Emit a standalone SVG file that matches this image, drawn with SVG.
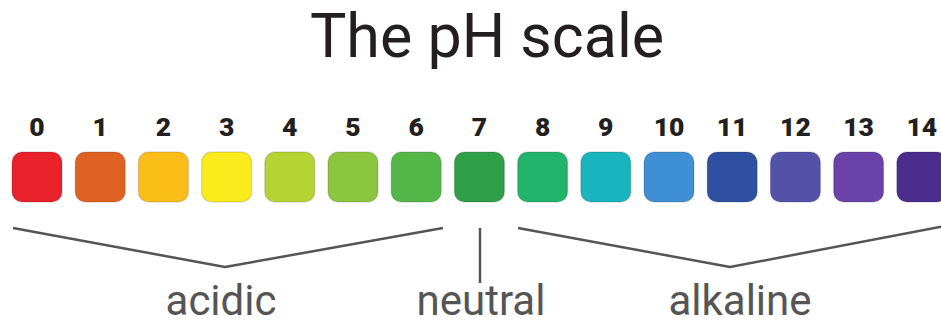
<svg xmlns="http://www.w3.org/2000/svg" width="941" height="325" viewBox="0 0 941 325">
<style>
.title{font-family:Roboto,"Liberation Sans",sans-serif;font-size:61px;fill:#231f20;text-anchor:middle}
.num{font-family:Roboto,"Liberation Sans",sans-serif;font-size:26.5px;font-weight:900;fill:#231f20;text-anchor:middle}
.lbl{font-family:Roboto,"Liberation Sans",sans-serif;font-size:42px;fill:#555555;text-anchor:middle}
.box{stroke:#000;stroke-opacity:0.12;stroke-width:1.5}
.line{fill:none;stroke:#555555;stroke-width:2.5;stroke-linejoin:round}
</style>
<rect width="941" height="325" fill="#ffffff"/>
<text class="title" x="487" y="57">The pH scale</text>
<g id="ph0"><rect class="box" x="12" y="152" width="50" height="50" rx="10" fill="#e8212b"/><text class="num" x="37" y="136">0</text></g>
<g id="ph1"><rect class="box" x="75.2" y="152" width="50" height="50" rx="10" fill="#e06222"/><text class="num" x="100.2" y="136">1</text></g>
<g id="ph2"><rect class="box" x="138.4" y="152" width="50" height="50" rx="10" fill="#fbbd18"/><text class="num" x="163.4" y="136">2</text></g>
<g id="ph3"><rect class="box" x="201.6" y="152" width="50" height="50" rx="10" fill="#faec1c"/><text class="num" x="226.6" y="136">3</text></g>
<g id="ph4"><rect class="box" x="264.8" y="152" width="50" height="50" rx="10" fill="#b6d334"/><text class="num" x="289.8" y="136">4</text></g>
<g id="ph5"><rect class="box" x="328" y="152" width="50" height="50" rx="10" fill="#8cc63f"/><text class="num" x="353" y="136">5</text></g>
<g id="ph6"><rect class="box" x="391.2" y="152" width="50" height="50" rx="10" fill="#53b848"/><text class="num" x="416.2" y="136">6</text></g>
<g id="ph7"><rect class="box" x="454.4" y="152" width="50" height="50" rx="10" fill="#2f9f48"/><text class="num" x="479.4" y="136">7</text></g>
<g id="ph8"><rect class="box" x="517.6" y="152" width="50" height="50" rx="10" fill="#21b46a"/><text class="num" x="542.6" y="136">8</text></g>
<g id="ph9"><rect class="box" x="580.8" y="152" width="50" height="50" rx="10" fill="#1ab4be"/><text class="num" x="605.8" y="136">9</text></g>
<g id="ph10"><rect class="box" x="644" y="152" width="50" height="50" rx="10" fill="#3f8fd5"/><text class="num" x="669" y="136">10</text></g>
<g id="ph11"><rect class="box" x="707.2" y="152" width="50" height="50" rx="10" fill="#2f4fa1"/><text class="num" x="732.2" y="136">11</text></g>
<g id="ph12"><rect class="box" x="770.4" y="152" width="50" height="50" rx="10" fill="#5451a8"/><text class="num" x="795.4" y="136">12</text></g>
<g id="ph13"><rect class="box" x="833.6" y="152" width="50" height="50" rx="10" fill="#6b42a9"/><text class="num" x="858.6" y="136">13</text></g>
<g id="ph14"><rect class="box" x="896.8" y="152" width="50" height="50" rx="10" fill="#4a2d8d"/><text class="num" x="921.8" y="136">14</text></g>
<g id="connectors">
<polyline class="line" points="13,228 225,267 443,228"/>
<line class="line" x1="480" y1="228" x2="480" y2="283"/>
<polyline class="line" points="518,228 730,267 945,226"/>
</g>
<g id="acidic"><text class="lbl" x="221" y="315">acidic</text></g>
<g id="neutral"><text class="lbl" x="481" y="315">neutral</text></g>
<g id="alkaline"><text class="lbl" x="740" y="315">alkaline</text></g>
</svg>
